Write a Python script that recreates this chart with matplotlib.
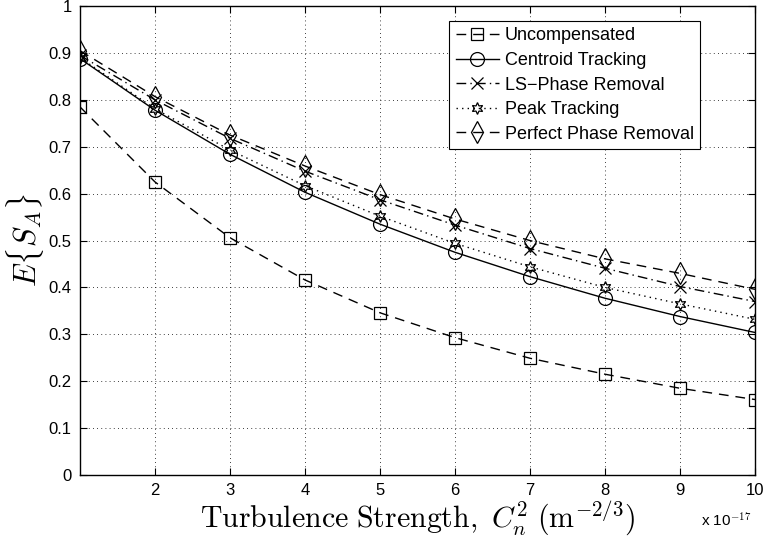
import matplotlib
matplotlib.use('Agg')
import matplotlib.pyplot as plt
import numpy as np

plt.rcParams['font.family'] = ['Liberation Sans', 'DejaVu Sans']
plt.rcParams['mathtext.fontset'] = 'cm'

# turbulence strength, in units of 1e-17 m^(-2/3)
cn2 = [1, 2, 3, 4, 5, 6, 7, 8, 9, 10]

uncompensated = [0.785, 0.625, 0.506, 0.416, 0.346, 0.293, 0.249, 0.215, 0.185, 0.161]
centroid = [0.888, 0.778, 0.684, 0.603, 0.535, 0.475, 0.423, 0.377, 0.338, 0.304]
ls_phase = [0.895, 0.800, 0.718, 0.648, 0.587, 0.533, 0.483, 0.441, 0.402, 0.370]
peak = [0.890, 0.781, 0.693, 0.617, 0.552, 0.494, 0.444, 0.400, 0.365, 0.332]
perfect = [0.905, 0.807, 0.725, 0.659, 0.598, 0.546, 0.500, 0.461, 0.430, 0.396]

fig = plt.figure(figsize=(7.64, 5.44), dpi=100)
ax = fig.add_axes([0.1047, 0.1268, 0.8835, 0.862])

mk = dict(color='k', markerfacecolor='none', markeredgecolor='k', linewidth=1.0,
          markersize=8.5, markeredgewidth=0.9)
ax.plot(cn2, uncompensated, linestyle=(0, (7, 5)), marker='s', label='Uncompensated', **mk)
ax.plot(cn2, centroid, linestyle='-', marker='o', label='Centroid Tracking', **{**mk, 'markersize': 10})
ax.plot(cn2, ls_phase, linestyle=(0, (7, 3, 1, 3)), marker='x', label='LS\u2212Phase Removal', **mk)
ax.plot(cn2, peak, linestyle=(0, (1, 3)), marker=(6, 1, 0), label='Peak Tracking', **mk)
ax.plot(cn2, perfect, linestyle=(0, (7, 5)), marker='d', label='Perfect Phase Removal', **{**mk, 'markersize': 11})

ax.set_xlim(1, 10)
ax.set_ylim(0, 1)
ax.set_xticks([2, 3, 4, 5, 6, 7, 8, 9, 10])
ax.set_yticks(np.arange(0, 1.01, 0.1))
ax.set_yticklabels(['0', '0.1', '0.2', '0.3', '0.4', '0.5', '0.6', '0.7', '0.8', '0.9', '1'])
ax.tick_params(direction='in', top=True, right=True, labelsize=12, length=5, width=0.8, pad=6)
ax.grid(True, linestyle=(0, (1, 4)), color='k', linewidth=0.6)
for s in ax.spines.values():
    s.set_linewidth(1.0)

ax.set_xlabel(r'$\mathrm{Turbulence\ Strength,}\ C_n^2\ (\mathrm{m}^{-2/3})$', fontsize=21.5, labelpad=0)
ax.set_ylabel(r'$E\{S_A\}$', fontsize=22, labelpad=2)
fig.text(0.917, 0.032, r'x 10$^{-17}$', fontsize=11)

leg = ax.legend(loc='upper right', bbox_to_anchor=(0.9185, 0.968), fontsize=13, frameon=True,
                fancybox=False, edgecolor='k', framealpha=1, handlelength=2.4,
                borderpad=0.35, labelspacing=0.42, handletextpad=0.3, borderaxespad=0)
leg.get_frame().set_linewidth(0.8)

fig.savefig('out.png', dpi=100)
